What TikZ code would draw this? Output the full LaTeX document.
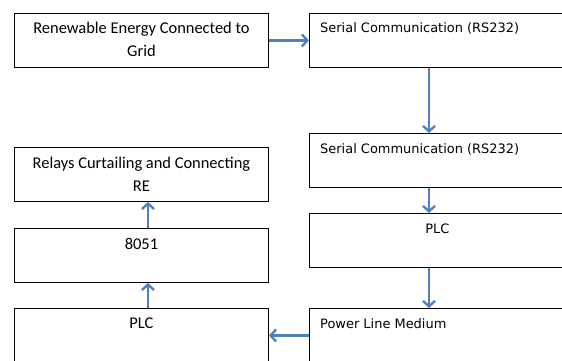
\documentclass[tikz,border=0pt]{standalone}
\usepackage{fontspec}
\setmainfont{Carlito}
\newfontfamily\boxsans{DejaVu Sans}
\usetikzlibrary{arrows.meta}
\definecolor{flowblue}{RGB}{79,129,189}

\begin{document}
\begin{tikzpicture}[x=1bp,y=-1bp,
  blk/.style={draw=black, line width=0.9bp, rectangle, inner sep=0pt,
              anchor=north west, minimum height=54bp},
  lblk/.style={blk, minimum width=254bp},
  rblk/.style={blk, minimum width=256bp},
  ctext/.style={inner sep=0pt, align=center, anchor=north,
                font=\fontsize{16.5}{23}\selectfont},
  rtext/.style={inner sep=0pt, anchor=west, font=\boxsans\fontsize{13}{15}\selectfont},
  flow/.style={draw=flowblue, line width=2.6bp,
               -{Straight Barb[length=5.5bp,width=12bp,line width=2.4bp]}}]
  \useasboundingbox (0,0) rectangle (562,360);
  \clip (0,0) rectangle (562,360);

  % left column
  \node[lblk] (grid)  at (14,13)  {};
  \node[lblk] (relay) at (14,147) {};
  \node[lblk] (mcu)   at (14,228) {};
  \node[lblk] (plcl)  at (14,308) {};

  % right column
  \node[rblk] (rsa)   at (309,13)  {};
  \node[rblk] (rsb)   at (309,133) {};
  \node[rblk] (plcr)  at (309,213) {};
  \node[rblk] (plm)   at (309,308) {};

  % labels
  \node[ctext] (tgrid)  at ([yshift=-9bp]grid.north)
    {Renewable Energy Connected to\\Grid};
  \node[ctext] (trelay) at ([yshift=-10bp]relay.north)
    {Relays Curtailing and Connecting\\RE};
  \node[ctext] (tmcu)   at ([yshift=-10bp]mcu.north) {8051};
  \node[ctext] (tplcl)  at ([yshift=-10bp]plcl.north) {PLC};

  \node[rtext] (trsa) at ([shift={(11,15)}]rsa.north west) {Serial Communication (RS232)};
  \node[rtext] (trsb) at ([shift={(11,16)}]rsb.north west) {Serial Communication (RS232)};
  \node[rtext, anchor=center] (tplcr) at ([yshift=-16bp]plcr.north) {PLC};
  \node[rtext] (tplm) at ([shift={(11,16)}]plm.north west) {Power Line Medium};

  % connectors
  \draw[flow] (grid.east) -- (rsa.west);
  \draw[flow] (429,0 |- rsa.south) -- (429,0 |- rsb.north);
  \draw[flow] (429,0 |- rsb.south) -- (429,0 |- plcr.north);
  \draw[flow] (429,0 |- plcr.south) -- (429,0 |- plm.north);
  \draw[flow] (plm.west) -- (plcl.east);
  \draw[flow] (148,0 |- plcl.north) -- (148,0 |- mcu.south);
  \draw[flow] (148,0 |- mcu.north) -- (148,0 |- relay.south);
\end{tikzpicture}
\end{document}
